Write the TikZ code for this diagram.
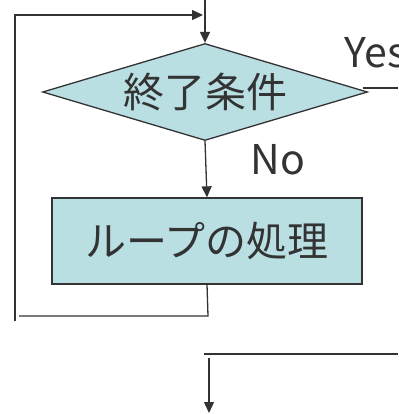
\documentclass[tikz,border=0pt]{standalone}
\usepackage{fontspec}
\setmainfont{Noto Sans CJK JP}
\usetikzlibrary{shapes.geometric,arrows.meta}
\definecolor{flowfill}{RGB}{185,223,227}
\definecolor{flowline}{RGB}{51,51,51}

\begin{document}
\begin{tikzpicture}[x=1pt, y=-1pt, line width=1.3pt, color=flowline,
  >={Triangle[length=11pt,width=10pt]},
  every node/.style={font=\fontsize{41}{48}\selectfont},
  cond/.style={draw, diamond, fill=flowfill, aspect=3.35, minimum width=325pt, minimum height=97pt, inner sep=0pt},
  proc/.style={draw, rectangle, fill=flowfill, minimum width=310pt, minimum height=86pt, inner sep=0pt}]
  \clip (0,0) rectangle (398,414);

  % Loop condition
  \coordinate (entry) at (205,0);
  \node[cond] (check) at (205,92) {終了条件};
  \node[anchor=base west] (yes) at (341,68) {Yes};
  \node[anchor=base west] (no) at (247,174) {No};

  % Loop body
  \node[proc] (body) at (207,241) {ループの処理};

  % Return path
  \coordinate (back1) at (208,316);
  \coordinate (back2) at (19,316);
  \coordinate (back3) at (15,321);
  \coordinate (back4) at (15,15);
  \coordinate (back5) at (203,15);

  % Exit path
  \coordinate (exit1) at (363,88);
  \coordinate (exit2) at (398,88);
  \coordinate (out1) at (204,354);
  \coordinate (out2) at (398,354);
  \coordinate (down1) at (209,358);
  \coordinate (down2) at (209,413);

  % Arrows
  \draw[->] (entry) -- (check.north);
  \draw[->] (check.south) -- (body.north);
  \draw (body.south) -- (back1) -- (back2);
  \draw[->] (back3) -- (back4) -- (back5);
  \draw (exit1) -- (exit2);
  \draw (out1) -- (out2);
  \draw[->] (down1) -- (down2);
\end{tikzpicture}
\end{document}
